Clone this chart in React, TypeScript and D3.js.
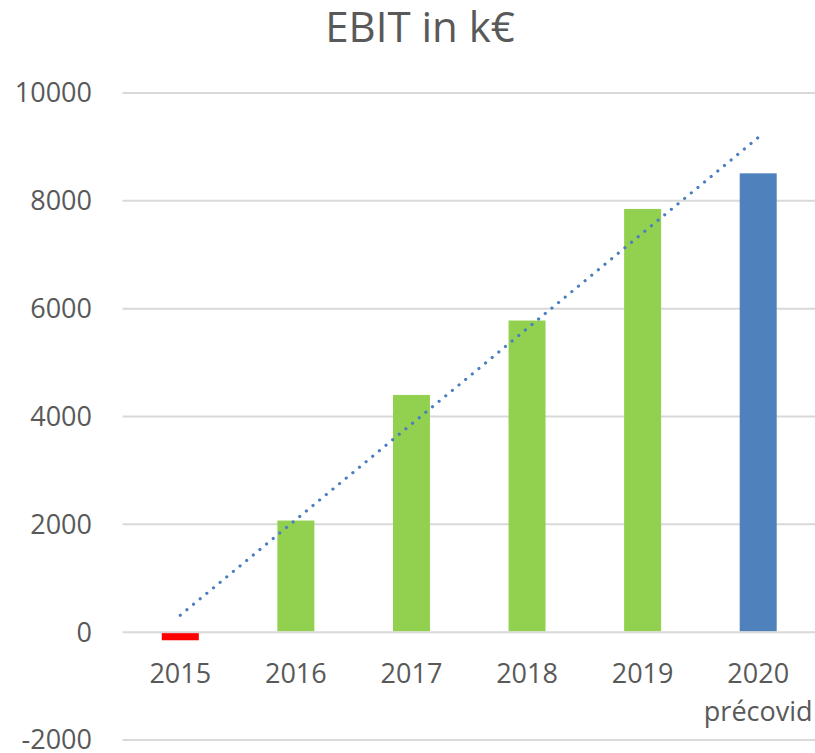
import React from "react";
import * as d3 from "d3";

const categories = ["2015", "2016", "2017", "2018", "2019", "2020"];
const subLabels = ["", "", "", "", "", "précovid"];
const ebit = [-150, 2070, 4400, 5780, 7850, 8510];
const barColors = ["#ff0000", "#92d050", "#92d050", "#92d050", "#92d050", "#4f81bd"];
const yTicks = [-2000, 0, 2000, 4000, 6000, 8000, 10000];
const title = "EBIT in k€";

const W = 815;
const H = 753;
const FONT = "'Open Sans', sans-serif";
const TEXT = "#595959";
const TICK_SIZE = 27;

export default function App() {
  const x = d3
    .scaleBand<string>()
    .domain(categories)
    .range([122.5, 816])
    .paddingInner(0.68)
    .paddingOuter(0.34);
  const y = d3.scaleLinear().domain([-2000, 10000]).range([740, 93]);

  // linear trendline (least squares over category index)
  const n = ebit.length;
  const xs = ebit.map((_, i) => i + 1);
  const mx = d3.mean(xs) as number;
  const my = d3.mean(ebit) as number;
  const sxy = d3.sum(xs.map((xi, i) => (xi - mx) * (ebit[i] - my)));
  const sxx = d3.sum(xs.map((xi) => (xi - mx) ** 2));
  const slope = sxy / sxx;
  const icpt = my - slope * mx;
  const cx = (c: string) => (x(c) as number) + x.bandwidth() / 2;
  const trendPts: [number, number][] = [
    [cx(categories[0]), y(icpt + slope * 1)],
    [cx(categories[n - 1]), y(icpt + slope * n)],
  ];
  const line = d3.line();

  return (
    <svg
      width={W}
      height={H}
      style={{ position: "absolute", left: 0, top: 0, background: "#fff" }}
    >
      <text
        x={420}
        y={42}
        textAnchor="middle"
        fontFamily={FONT}
        fontSize={42}
        fill={TEXT}
      >
        {title}
      </text>
      {yTicks.map((t) => (
        <g key={t}>
          <line x1={122.5} x2={816} y1={y(t)} y2={y(t)} stroke="#d9d9d9" strokeWidth={2} />
          <text
            x={92}
            y={y(t)}
            dy="0.35em"
            textAnchor="end"
            fontFamily={FONT}
            fontSize={TICK_SIZE}
            fill={TEXT}
          >
            {t}
          </text>
        </g>
      ))}
      {categories.map((c, i) => {
        const v = ebit[i];
        const y0 = y(0);
        const y1 = y(v);
        return (
          <rect
            key={c}
            x={x(c)}
            width={x.bandwidth()}
            y={v >= 0 ? y1 : y0 + 1}
            height={Math.abs(y1 - y0) - 1}
            fill={barColors[i]}
          />
        );
      })}
      {categories.map((c, i) => (
        <g key={"l" + c}>
          <text
            x={cx(c)}
            y={683}
            textAnchor="middle"
            fontFamily={FONT}
            fontSize={TICK_SIZE}
            fill={TEXT}
          >
            {c}
          </text>
          {subLabels[i] && (
            <text
              x={cx(c)}
              y={721}
              textAnchor="middle"
              fontFamily={FONT}
              fontSize={TICK_SIZE}
              fill={TEXT}
            >
              {subLabels[i]}
            </text>
          )}
        </g>
      ))}
      <path
        d={line(trendPts) as string}
        fill="none"
        stroke="#4a7ebf"
        strokeWidth={3.2}
        strokeLinecap="round"
        strokeDasharray="0.01 8.6"
      />
    </svg>
  );
}
